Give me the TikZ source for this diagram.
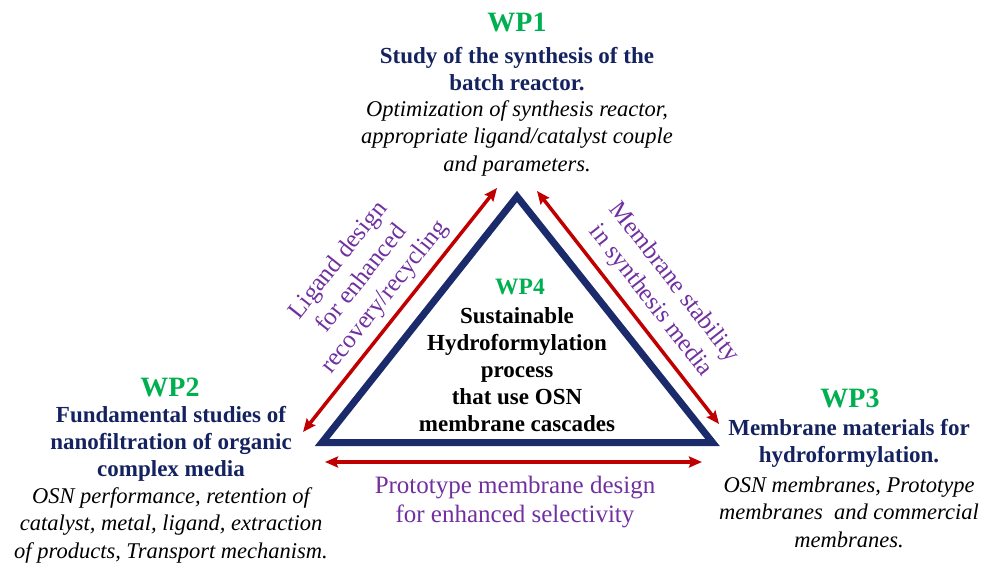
\documentclass[tikz,border=0pt]{standalone}
\usepackage{fontspec}
\setmainfont{Liberation Serif}
\usetikzlibrary{arrows.meta}
\definecolor{wpgreen}{HTML}{00B050}
\definecolor{wpnavy}{HTML}{14235F}
\definecolor{trinavy}{HTML}{1B2A6B}
\definecolor{linkpurple}{HTML}{7030A0}
\definecolor{linkred}{HTML}{C00000}
\begin{document}
\begin{tikzpicture}[x=1pt,y=-1pt,
    wptag/.style={inner sep=0pt, text=wpgreen, font=\fontsize{28}{30}\selectfont\bfseries},
    wphead/.style={inner sep=0pt, align=center, text=wpnavy, font=\fontsize{23}{27}\selectfont\bfseries},
    wpdesc/.style={inner sep=0pt, align=center, font=\fontsize{22.5}{27.5}\selectfont\itshape},
    linklabel/.style={inner sep=0pt, align=center, text=linkpurple, font=\fontsize{25}{29.5}\selectfont},
    link/.style={linkred, line width=3.5pt, {Stealth[length=13pt,width=11pt,inset=2pt]}-{Stealth[length=13pt,width=11pt,inset=2pt]}}]
        \useasboundingbox (0,0) rectangle (984,563);

        % Triangle corners
        \coordinate (top) at (517,196.5);
        \coordinate (left) at (322,442.5);
        \coordinate (right) at (712.5,442.5);
        \draw[trinavy, line width=7pt, line join=miter] (top) -- (left) -- (right) -- cycle;

        % Arrow ends along the sides
        \coordinate (lA) at (303,432);
        \coordinate (lB) at (497,188);
        \coordinate (rA) at (537,191);
        \coordinate (rB) at (719,424);
        \coordinate (bA) at (325,462);
        \coordinate (bB) at (702,462);
        \draw[link] (lA) -- (lB);  % WP2 <-> WP1
        \draw[link] (rA) -- (rB);  % WP1 <-> WP3
        \draw[link] (bA) -- (bB);  % WP2 <-> WP3

        % WP1 (top)
        \node[wptag] (wp1) at (517,22) {WP1};
        \node[wphead] (wp1head) at (517,69) {Study of the synthesis of the\\batch reactor.};
        \node[wpdesc] (wp1desc) at (517,138) {Optimization of synthesis reactor,\\appropriate ligand/catalyst couple\\and parameters.};

        % WP2 (left)
        \node[wptag] (wp2) at (170,387) {WP2};
        \node[wphead] (wp2head) at (171,443.5) {Fundamental studies of\\nanofiltration of organic\\complex media};
        \node[wpdesc] (wp2desc) at (171,525) {OSN performance, retention of\\catalyst, metal, ligand, extraction\\of products, Transport mechanism.};

        % WP3 (right)
        \node[wptag] (wp3) at (850,398) {WP3};
        \node[wphead] (wp3head) at (849,443.5) {Membrane materials for\\hydroformylation.};
        \node[wpdesc] (wp3desc) at (849,512) {OSN membranes, Prototype\\membranes~~and commercial\\membranes.};

        % WP4 (inside)
        \node[wptag, font=\fontsize{23.5}{26}\selectfont\bfseries] (wp4) at (520,287) {WP4};
        \node[wphead, text=black] (wp4text) at (517,370) {Sustainable\\Hydroformylation\\process\\that use OSN\\membrane cascades};

        % Link labels
        \node[linklabel, rotate=51.6] (ligand) at (362,279) {Ligand design\\for enhanced\\recovery/recycling};
        \node[linklabel, rotate=-52] (stability) at (662,292) {Membrane stability\\in synthesis media};
        \node[linklabel] (prototype) at (515,502) {Prototype membrane design\\for enhanced selectivity};
\end{tikzpicture}
\end{document}
